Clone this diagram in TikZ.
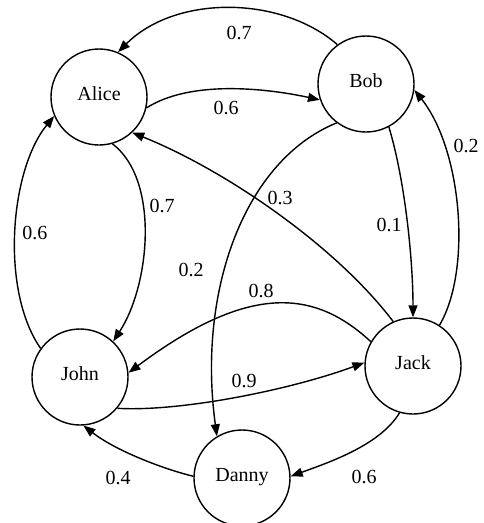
\documentclass[tikz,border=0pt]{standalone}
\usepackage{fontspec}
\setmainfont{Liberation Serif}
\usetikzlibrary{arrows.meta}
\begin{document}
\begin{tikzpicture}[x=1pt,y=-1pt,
  state/.style={circle,draw,line width=1.4pt,minimum size=96pt,inner sep=0pt,
    font=\fontsize{20}{24}\selectfont,text height=0.66em,text depth=0pt},
  edge/.style={line width=1.4pt,-{Triangle[length=12pt,width=9pt]}},
  weight/.style={inner sep=0pt,font=\fontsize{20}{24}\selectfont}]
\fill[white] (0,0) rectangle (483,523);
\useasboundingbox (0,0) rectangle (483,523);

% states
\node[state] (alice) at (99,97)  {Alice};
\node[state] (bob)   at (366,84) {Bob};
\node[state] (john)  at (80,377) {John};
\node[state] (jack)  at (413,366) {Jack};
\node[state] (danny) at (242,478) {Danny};

% transitions
\draw[edge] (bob.126)   .. controls (280,-5)  and (175,-5)  .. (alice.67);
\draw[edge] (alice.-13) .. controls (190,80)  and (265,88)  .. (bob.199);
\draw[edge] (alice.-74) .. controls (160,180) and (150,285) .. (john.47);
\draw[edge] (john.144)  .. controls (0,290)   and (10,170)  .. (alice.203);
\draw[edge] (jack.114)  .. controls (335,245) and (225,170) .. (alice.-47);
\draw[edge] (bob.-127)  .. controls (245,160) and (197,290) .. (danny.121);
\draw[edge] (bob.-62)   .. controls (405,180) and (413,260) .. (jack.90);
\draw[edge] (jack.57)   .. controls (472,270) and (462,150) .. (bob.-7);
\draw[edge] (jack.150)  .. controls (315,290) and (250,282) .. (john.5);
\draw[edge] (john.-40)  .. controls (180,412) and (290,390) .. (jack.176);
\draw[edge] (danny.178) .. controls (160,468) and (115,450) .. (john.-86);
\draw[edge] (jack.-106) .. controls (380,445) and (330,462) .. (danny.2);

% weights
\node[weight] (w1)  at (239,33)  {0.7};
\node[weight] (w2)  at (226,108) {0.6};
\node[weight] (w3)  at (162,206) {0.7};
\node[weight] (w4)  at (35,233)  {0.6};
\node[weight] (w5)  at (280,198) {0.3};
\node[weight] (w6)  at (191,270) {0.2};
\node[weight] (w7)  at (389,225) {0.1};
\node[weight] (w8)  at (466,146) {0.2};
\node[weight] (w9)  at (261,291) {0.8};
\node[weight] (w10) at (244,381) {0.9};
\node[weight] (w11) at (118,478) {0.4};
\node[weight] (w12) at (364,477) {0.6};
\end{tikzpicture}
\end{document}
